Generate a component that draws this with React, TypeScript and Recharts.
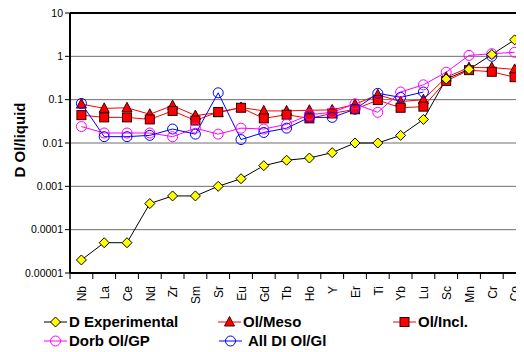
import React from 'react';
import { LineChart, Line, XAxis, YAxis, CartesianGrid, ReferenceLine } from 'recharts';

const categories = ['Nb', 'La', 'Ce', 'Nd', 'Zr', 'Sm', 'Sr', 'Eu', 'Gd', 'Tb', 'Ho', 'Y', 'Er', 'Ti', 'Yb', 'Lu', 'Sc', 'Mn', 'Cr', 'Co'];
const dExperimental = [0.00002, 0.00005, 0.00005, 0.0004, 0.0006, 0.0006, 0.001, 0.0015, 0.003, 0.004, 0.0045, 0.006, 0.01, 0.01, 0.015, 0.035, 0.3, 0.5, 1.1, 2.4];
const olMeso = [0.079, 0.063, 0.065, 0.046, 0.073, 0.043, 0.05, 0.066, 0.055, 0.055, 0.057, 0.058, 0.078, 0.13, 0.09, 0.1, 0.33, 0.55, 0.55, 0.5];
const olIncl = [0.044, 0.039, 0.039, 0.035, 0.055, 0.033, 0.052, 0.065, 0.037, 0.045, 0.037, 0.048, 0.06, 0.098, 0.065, 0.069, 0.27, 0.48, 0.44, 0.33];
const dorbOlGP = [0.024, 0.017, 0.017, 0.017, 0.014, 0.022, 0.016, 0.022, 0.021, 0.027, 0.045, 0.051, 0.08, 0.051, 0.15, 0.22, 0.43, 1.05, 1.15, 1.24];
const allDiOlGl: (number | null)[] = [0.082, 0.014, 0.014, 0.015, 0.021, 0.016, 0.144, 0.012, 0.0175, 0.022, 0.039, 0.039, 0.06, 0.14, 0.113, 0.15, null, null, 1.0, null];

const yTicks = [0.00001, 0.0001, 0.001, 0.01, 0.1, 1, 10];
const yTickLabels = ['0.00001', '0.0001', '0.001', '0.01', '0.1', '1', '10'];

const data = categories.map((c, i) => ({
  name: c,
  dexp: dExperimental[i],
  meso: olMeso[i],
  incl: olIncl[i],
  dorb: dorbOlGP[i],
  alldi: allDiOlGl[i],
}));

const FONT = '"Liberation Sans", Arial, sans-serif';

type Shape = 'diamond' | 'triangle' | 'square' | 'circle';

function Marker({ shape, cx, cy, color, stroke }: { shape: Shape; cx: number; cy: number; color: string; stroke: string }) {
  if (shape === 'diamond') {
    return <polygon points={`${cx},${cy - 5} ${cx + 5},${cy} ${cx},${cy + 5} ${cx - 5},${cy}`} fill={color} stroke={stroke} strokeWidth={1} />;
  }
  if (shape === 'triangle') {
    return <polygon points={`${cx},${cy - 5.5} ${cx + 5},${cy + 4} ${cx - 5},${cy + 4}`} fill={color} stroke={stroke} strokeWidth={1} />;
  }
  if (shape === 'square') {
    return <rect x={cx - 4.5} y={cy - 4.5} width={9} height={9} fill={color} stroke={stroke} strokeWidth={1} />;
  }
  return <circle cx={cx} cy={cy} r={5} fill="none" stroke={stroke} strokeWidth={1} />;
}

const series = [
  { key: 'meso', name: 'Ol/Meso', line: '#FF0000', shape: 'triangle' as Shape, fill: '#FF0000', stroke: '#400000' },
  { key: 'incl', name: 'Ol/Incl.', line: '#FF0000', shape: 'square' as Shape, fill: '#FF0000', stroke: '#330000' },
  { key: 'dorb', name: 'Dorb Ol/GP', line: '#FF00FF', shape: 'circle' as Shape, fill: 'none', stroke: '#FF00FF' },
  { key: 'alldi', name: 'All DI Ol/Gl', line: '#0000FF', shape: 'circle' as Shape, fill: 'none', stroke: '#0000FF' },
  { key: 'dexp', name: 'D Experimental', line: '#000000', shape: 'diamond' as Shape, fill: '#FFFF00', stroke: '#000000' },
];

const legendLayout = [
  { key: 'dexp', left: 36, top: 314, textLeft: 61 },
  { key: 'meso', left: 210, top: 314, textLeft: 235 },
  { key: 'incl', left: 385, top: 314, textLeft: 410 },
  { key: 'dorb', left: 36, top: 333, textLeft: 61 },
  { key: 'alldi', left: 211, top: 333, textLeft: 240 },
];

function makeDot(s: typeof series[number]) {
  return (props: any) => {
    const { cx, cy, index, value } = props;
    if (cx == null || cy == null || value == null) return <g key={`${s.key}-${index}`} />;
    return (
      <g key={`${s.key}-${index}`}>
        <Marker shape={s.shape} cx={cx} cy={cy} color={s.fill} stroke={s.stroke} />
      </g>
    );
  };
}

function XTick(props: any) {
  const { x, y, payload, width, visibleTicksCount } = props;
  const band = width / (visibleTicksCount || categories.length);
  return (
    <g transform={`translate(${x},${y})`}>
      <line x1={-band / 2} x2={-band / 2} y1={0} y2={6} stroke="#000" strokeWidth={1} />
      <text
        transform="rotate(-90)"
        x={-13}
        y={0}
        dy="0.4em"
        textAnchor="end"
        fontSize={12}
        fontFamily={FONT}
        fill="#000"
      >
        {payload.value}
      </text>
    </g>
  );
}

export default function App() {
  return (
    <div style={{ position: 'relative', width: 516, height: 344, overflow: 'hidden' }}>
      <LineChart
        width={520}
        height={344}
        data={data}
        margin={{ top: 5, right: 2, bottom: 49, left: 0 }}
      >
        <CartesianGrid horizontal vertical={false} stroke="#6e6e6e" strokeWidth={1} />
        <XAxis
          dataKey="name"
          tick={<XTick />}
          tickLine={false}
          tickSize={0}
          tickMargin={0}
          interval={0}
          height={30}
          padding={{ left: 11.4, right: 11.4 }}
          axisLine={{ stroke: '#000', strokeWidth: 2 }}
        />
        <YAxis
          scale="log"
          domain={[0.00001, 10]}
          ticks={yTicks}
          allowDataOverflow
          width={62}
          tickSize={5}
          tickMargin={2}
          tickFormatter={(v: number) => {
            const i = yTicks.indexOf(v);
            return i >= 0 ? yTickLabels[i] : String(v);
          }}
          tick={{ fontSize: 10.5, fontFamily: FONT, fill: '#000' }}
          tickLine={{ stroke: '#000', strokeWidth: 1 }}
          axisLine={{ stroke: '#000', strokeWidth: 2 }}
          label={{
            content: () => (
              <text
                x={11}
                y={132}
                transform="rotate(-90, 11, 132)"
                textAnchor="middle"
                dominantBaseline="central"
                fontSize={15}
                fontWeight="bold"
                fontFamily={FONT}
                fill="#000"
              >
                D Ol/liquid
              </text>
            ),
          }}
        />
        <ReferenceLine y={10} stroke="#000" strokeWidth={2} />
        {series.map((s) => (
          <Line
            key={s.key}
            dataKey={s.key}
            name={s.name}
            type="linear"
            stroke={s.line}
            strokeWidth={1}
            dot={makeDot(s)}
            activeDot={false}
            isAnimationActive={false}
            connectNulls={false}
          />
        ))}
      </LineChart>
      {legendLayout.map((l) => {
        const s = series.find((x) => x.key === l.key)!;
        return (
          <React.Fragment key={l.key}>
            <svg style={{ position: 'absolute', left: l.left, top: l.top - 8 }} width={23} height={16}>
              <line x1={0} x2={23} y1={8} y2={8} stroke={s.line} strokeWidth={1} />
              <Marker shape={s.shape} cx={11.5} cy={8} color={s.fill} stroke={s.stroke} />
            </svg>
            <div
              style={{
                position: 'absolute',
                left: l.textLeft,
                top: l.top - 9,
                fontFamily: FONT,
                fontWeight: 'bold',
                fontSize: 15,
                lineHeight: '18px',
                whiteSpace: 'nowrap',
                color: '#000',
              }}
            >
              {s.name}
            </div>
          </React.Fragment>
        );
      })}
    </div>
  );
}
